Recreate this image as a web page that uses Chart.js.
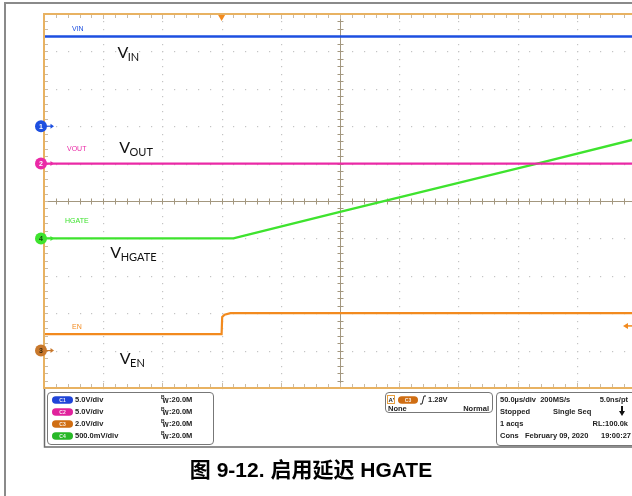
<!DOCTYPE html>
<html>
<head>
<meta charset="utf-8">
<script src="https://cdn.jsdelivr.net/npm/chart.js@4"></script>
<style>
  html, body { margin: 0; padding: 0; background: #fff; overflow: hidden; }
  #wrap { position: relative; width: 640px; height: 496px; }
</style>
</head>
<body>
<div id="wrap"><canvas id="c" width="640" height="496"></canvas></div>
<script>
// ---- Data (units: scope divisions; x 0..10, y -5..+5) ----
const vinX = [0, 10];
const vinY = [4.4, 4.4];
const voutX = [0, 10];
const voutY = [1.0, 1.0];
const hgateX = [0, 3.2, 3.35, 5.0, 8.33, 10];
const hgateY = [-1.0, -1.0, -0.94, -0.29, 1.0, 1.66];
const enX = [0, 3.0, 3.01, 3.05, 3.15, 10];
const enY = [-3.56, -3.56, -3.1, -3.04, -3.0, -3.0];

const seriesNames = ["VIN", "VOUT", "HGATE", "EN"];
const seriesColors = ["#1d4fe0", "#ea2aa6", "#3ee32e", "#f28a1e"];
const labelY = [4.6, 1.4, -0.53, -3.38];           // small trace tags
const bigLabelMain = ["V", "V", "V", "V"];
const bigLabelSub = ["IN", "OUT", "HGATE", "EN"];
const bigLabelPos = [[1.24, 3.82], [1.27, 1.28], [1.12, -1.53], [1.28, -4.36]];
const markerNums = ["1", "2", "4", "3"];
const markerLevels = [2.0, 1.0, -1.0, -4.0];
const markerColors = ["#1d4fe0", "#ea2aa6", "#3ee32e", "#c8782c"];
const triggerTime = [3.0];
const triggerLevel = [-3.34];

const xMajor = [0,1,2,3,4,5,6,7,8,9,10];
const yMajor = [-5,-4,-3,-2,-1,0,1,2,3,4,5];

const chRows = [
  {ch: "C1", color: "#1f44d8", scale: "5.0V/div"},
  {ch: "C2", color: "#e0229c", scale: "5.0V/div"},
  {ch: "C3", color: "#cf6d12", scale: "2.0V/div"},
  {ch: "C4", color: "#27b827", scale: "500.0mV/div"}
];
const bwText = ":20.0M";
const acqRows = [
  ["50.0\u00b5s/div  200MS/s", "", "5.0ns/pt"],
  ["Stopped", "Single Seq", ""],
  ["1 acqs", "", "RL:100.0k"],
  ["Cons   February 09, 2020", "", "19:00:27"]
];
const trigText = ["1.28V", "None", "Normal"];
const title = "图 9-12. 启用延迟 HGATE";

function mk(xs, ys) { return xs.map((x, i) => ({x: x, y: ys[i]})); }

const BORDER = "#e8b262";
const CENTER = "#a3977f";
const DOT = "#c4c4c4";

const gridPlugin = {
  id: "scopeGrid",
  beforeDatasetsDraw(chart) {
    const ctx = chart.ctx, xs = chart.scales.x, ys = chart.scales.y;
    const ca = chart.chartArea;
    ctx.save();
    ctx.fillStyle = DOT;
    xMajor.forEach(v => {
      if (v === 0 || v === 5 || v === 10) return;
      const px = Math.round(xs.getPixelForValue(v));
      for (let k = -25; k <= 25; k++) {
        const py = Math.round(ys.getPixelForValue(k / 5));
        ctx.fillRect(px, py, 1.2, 1.2);
      }
    });
    yMajor.forEach(v => {
      if (v === 0 || v === 5 || v === -5) return;
      const py = Math.round(ys.getPixelForValue(v));
      for (let k = 0; k <= 50; k++) {
        const px = Math.round(xs.getPixelForValue(k / 5));
        ctx.fillRect(px, py, 1.2, 1.2);
      }
    });
    ctx.strokeStyle = CENTER;
    ctx.lineWidth = 1;
    const cx = Math.round(xs.getPixelForValue(5)) + 0.5;
    const cy = Math.round(ys.getPixelForValue(0)) + 0.5;
    ctx.beginPath();
    ctx.moveTo(cx, ca.top); ctx.lineTo(cx, ca.bottom);
    ctx.moveTo(ca.left, cy); ctx.lineTo(ca.right, cy);
    for (let k = -25; k <= 25; k++) {
      const py = Math.round(ys.getPixelForValue(k / 5)) + 0.5;
      ctx.moveTo(cx - 3, py); ctx.lineTo(cx + 3, py);
    }
    for (let k = 0; k <= 50; k++) {
      const px = Math.round(xs.getPixelForValue(k / 5)) + 0.5;
      ctx.moveTo(px, cy - 3); ctx.lineTo(px, cy + 3);
    }
    ctx.stroke();
    ctx.strokeStyle = "#c9bba6";
    ctx.beginPath();
    for (let k = 1; k < 50; k++) {
      const px = Math.round(xs.getPixelForValue(k / 5)) + 0.5;
      const len = (k % 5 === 0) ? 5 : 4;
      ctx.moveTo(px, ca.top); ctx.lineTo(px, ca.top + len);
      ctx.moveTo(px, ca.bottom); ctx.lineTo(px, ca.bottom - len);
    }
    for (let k = -24; k < 25; k++) {
      const py = Math.round(ys.getPixelForValue(k / 5)) + 0.5;
      ctx.moveTo(ca.left, py); ctx.lineTo(ca.left + 4, py);
    }
    ctx.stroke();
    ctx.restore();
  },
  afterDatasetsDraw(chart) {
    const ctx = chart.ctx, xs = chart.scales.x, ys = chart.scales.y;
    const ca = chart.chartArea;
    ctx.save();
    ctx.strokeStyle = BORDER;
    ctx.lineWidth = 2;
    ctx.strokeRect(ca.left, ca.top, ca.right - ca.left, ca.bottom - ca.top);

    const tx = xs.getPixelForValue(triggerTime[0]);
    ctx.fillStyle = "#f28a1e";
    ctx.beginPath();
    ctx.moveTo(tx - 3.5, ca.top + 1); ctx.lineTo(tx + 3.5, ca.top + 1); ctx.lineTo(tx, ca.top + 7);
    ctx.closePath(); ctx.fill();
    const ty = ys.getPixelForValue(triggerLevel[0]);
    ctx.beginPath();
    ctx.moveTo(623, ty); ctx.lineTo(628, ty - 3); ctx.lineTo(628, ty + 3); ctx.closePath(); ctx.fill();
    ctx.fillRect(627, ty - 0.75, 6, 1.5);

    ctx.font = "7px 'Liberation Sans Narrow', 'Liberation Sans', Arial";
    ctx.textBaseline = "middle";
    const tagX = [72, 67, 65, 72];
    seriesNames.forEach((n, i) => {
      ctx.fillStyle = seriesColors[i];
      ctx.fillText(n, tagX[i], ys.getPixelForValue(labelY[i]));
    });

    ctx.fillStyle = "#111";
    ctx.textBaseline = "alphabetic";
    bigLabelMain.forEach((m, i) => {
      const px = xs.getPixelForValue(bigLabelPos[i][0]);
      const py = ys.getPixelForValue(bigLabelPos[i][1]);
      ctx.font = "16px Lato, 'Open Sans', sans-serif";
      ctx.fillText(m, px, py);
      const w = ctx.measureText(m).width;
      ctx.font = "11px Lato, 'Open Sans', sans-serif";
      ctx.fillText(bigLabelSub[i], px + w - 0.5, py + 3);
    });

    markerLevels.forEach((lv, i) => {
      const py = ys.getPixelForValue(lv);
      const px = ca.left - 3;
      ctx.fillStyle = markerColors[i];
      ctx.strokeStyle = markerColors[i];
      ctx.lineWidth = 1.2;
      ctx.beginPath(); ctx.moveTo(px + 4, py); ctx.lineTo(px + 11, py); ctx.stroke();
      ctx.beginPath(); ctx.moveTo(px + 13, py); ctx.lineTo(px + 9.5, py - 2.5); ctx.lineTo(px + 9.5, py + 2.5); ctx.closePath(); ctx.fill();
      ctx.beginPath(); ctx.arc(px, py, 6, 0, Math.PI * 2); ctx.fill();
      ctx.fillStyle = (i === 2) ? "#114411" : "#fff";
      if (i === 3) ctx.fillStyle = "#3a2a10";
      ctx.font = "bold 7px 'Liberation Sans', Arial";
      ctx.textAlign = "center"; ctx.textBaseline = "middle";
      ctx.fillText(markerNums[i], px, py + 0.5);
      ctx.textAlign = "left";
    });
    ctx.restore();
  },
  afterDraw(chart) {
    const ctx = chart.ctx;
    const ca = chart.chartArea;
    ctx.save();
    ctx.strokeStyle = "#6b6b6b";
    ctx.lineWidth = 1.5;
    ctx.beginPath();
    ctx.moveTo(ca.left + 0.5, ca.bottom + 1); ctx.lineTo(ca.left + 0.5, 447); ctx.lineTo(640, 447);
    ctx.stroke();

    function rbox(x, y, w, h) {
      ctx.beginPath();
      ctx.roundRect(x + 0.5, y + 0.5, w, h, 3.5);
      ctx.strokeStyle = "#777"; ctx.lineWidth = 1; ctx.stroke();
    }
    function pill(x, y, w, h, color, txt) {
      ctx.beginPath();
      ctx.roundRect(x, y - h / 2, w, h, h / 2);
      ctx.fillStyle = color; ctx.fill();
      ctx.fillStyle = "rgba(255,255,255,0.9)";
      ctx.font = "bold 5px 'Liberation Sans', Arial";
      ctx.textAlign = "center"; ctx.textBaseline = "middle";
      ctx.fillText(txt, x + w / 2, y + 0.5);
      ctx.textAlign = "left";
    }
    const F = "bold 7.5px 'Liberation Sans', Arial";
    rbox(47, 392, 166, 52);
    chRows.forEach((r, i) => {
      const y = 400 + i * 12;
      pill(52, y, 21, 7.5, r.color, r.ch);
      ctx.fillStyle = "#222"; ctx.font = F; ctx.textBaseline = "middle";
      ctx.fillText(r.scale, 75, y);
      ctx.font = "bold 5px 'Liberation Sans', Arial";
      ctx.fillText("B", 161, y - 2.5);
      ctx.font = "bold 6.5px 'Liberation Sans', Arial";
      ctx.fillText("W", 162.5, y + 1.5);
      ctx.font = F;
      ctx.fillText(bwText, 169, y);
    });
    rbox(385, 392, 107, 20);
    ctx.strokeStyle = "#e8a040"; ctx.lineWidth = 1;
    ctx.strokeRect(387.5, 395.5, 7, 8);
    ctx.fillStyle = "#222"; ctx.font = "bold 6px 'Liberation Sans', Arial"; ctx.textBaseline = "middle";
    ctx.fillText("A'", 388.5, 400);
    pill(398, 400, 20, 7.5, "#cf6d12", "C3");
    ctx.strokeStyle = "#222"; ctx.lineWidth = 1;
    ctx.beginPath(); ctx.moveTo(420, 404); ctx.lineTo(422, 404); ctx.lineTo(424, 396); ctx.lineTo(426, 396); ctx.stroke();
    ctx.font = F; ctx.fillStyle = "#222";
    ctx.fillText(trigText[0], 428, 399.5);
    ctx.fillText(trigText[1], 388, 409);
    ctx.textAlign = "right"; ctx.fillText(trigText[2], 489, 409); ctx.textAlign = "left";
    rbox(496, 392, 150, 53);
    acqRows.forEach((r, i) => {
      const y = 400 + i * 12;
      ctx.font = F; ctx.fillStyle = "#222"; ctx.textBaseline = "middle";
      ctx.fillText(r[0], 500, y);
      if (r[1]) ctx.fillText(r[1], 553, y);
      if (r[2]) { ctx.textAlign = "right"; ctx.fillText(r[2], i === 3 ? 631 : 628, y); ctx.textAlign = "left"; }
    });
    ctx.fillStyle = "#111";
    ctx.fillRect(621, 406, 2, 6);
    ctx.beginPath(); ctx.moveTo(619, 411); ctx.lineTo(625, 411); ctx.lineTo(622, 416); ctx.closePath(); ctx.fill();

    ctx.fillStyle = "#000";
    ctx.font = "bold 21px 'Liberation Sans', 'Noto Sans CJK SC', sans-serif";
    ctx.textAlign = "center"; ctx.textBaseline = "alphabetic";
    ctx.fillText(title, 311, 477);

    ctx.strokeStyle = "#8a8a8a"; ctx.lineWidth = 2;
    ctx.beginPath(); ctx.moveTo(5, 496); ctx.lineTo(5, 3); ctx.lineTo(640, 3); ctx.stroke();
    ctx.restore();
  }
};

const ds = (name, xs, ys, color, w) => ({
  label: name, data: mk(xs, ys), borderColor: color, backgroundColor: color,
  borderWidth: w, pointRadius: 0, tension: 0, fill: false
});

new Chart(document.getElementById("c"), {
  type: "line",
  data: {
    datasets: [
      ds(seriesNames[0], vinX, vinY, seriesColors[0], 2.5),
      ds(seriesNames[1], voutX, voutY, seriesColors[1], 2.2),
      ds(seriesNames[2], hgateX, hgateY, seriesColors[2], 2.4),
      ds(seriesNames[3], enX, enY, seriesColors[3], 2.2)
    ]
  },
  options: {
    responsive: false,
    animation: false,
    layout: { padding: { left: 44, top: 14, right: 4, bottom: 108 } },
    plugins: { legend: { display: false }, tooltip: { enabled: false } },
    scales: {
      x: { type: "linear", min: 0, max: 10, display: false },
      y: { type: "linear", min: -5, max: 5, display: false }
    }
  },
  plugins: [gridPlugin]
});
</script>
</body>
</html>
